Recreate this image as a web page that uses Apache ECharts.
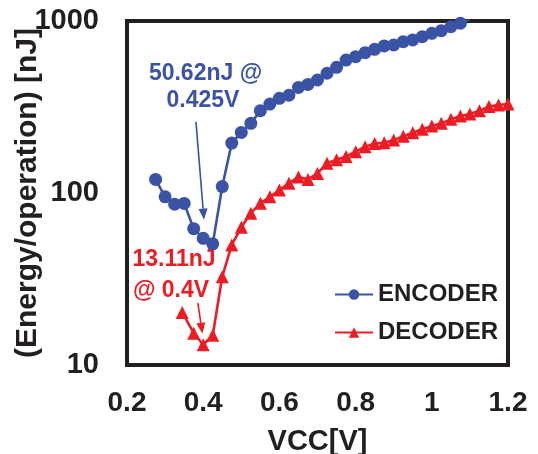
<!DOCTYPE html>
<html>
<head>
<meta charset="utf-8">
<script src="https://cdn.jsdelivr.net/npm/echarts@6/dist/echarts.min.js"></script>
<style>
html,body{margin:0;padding:0;background:#fff;}
#c{width:538px;height:454px;}
</style>
</head>
<body>
<div id="c"></div>
<script>
// ---- data ----
const vccEncoder = [0.275,0.3,0.325,0.35,0.375,0.4,0.425,0.45,0.475,0.5,0.525,0.55,0.575,0.6,0.625,0.65,0.675,0.7,0.725,0.75,0.775,0.8,0.825,0.85,0.875,0.9,0.925,0.95,0.975,1.0,1.025,1.05,1.075,1.1];
const encoder = [120,95,86,87,62,54.5,50.62,109,195,225,254,301,329,355,370,411,428,454,497,538,593,620,654,684,716,725,758,776,811,848,878,926,970,1030];
const vccDecoder = [0.345,0.375,0.4,0.425,0.45,0.475,0.5,0.525,0.55,0.575,0.6,0.625,0.65,0.675,0.7,0.725,0.75,0.775,0.8,0.825,0.85,0.875,0.9,0.925,0.95,0.975,1.0,1.025,1.05,1.075,1.1,1.125,1.15,1.175,1.2];
const decoder = [20.2,15.3,13.11,14.9,32.6,49.9,63.2,76.3,87.1,95.1,104,114,124,120,130,149,156,163,174,186,194,196,203,214,224,235,245,254,268,280,288,301,318,325,329];
const xTicks = [0.2,0.4,0.6,0.8,1,1.2];
const yTicks = [10,100,1000];
const seriesNames = ['ENCODER','DECODER'];
const encAnnot = ['50.62nJ @','0.425V'];
const decAnnot = ['13.11nJ','@ 0.4V'];

const BLUE = '#3a53a4';
const RED = '#ed1c24';
const INK = '#231f20';
const FONT = '"Liberation Sans", Arial, sans-serif';

const zip = (xs, ys) => xs.map((x, i) => [x, ys[i]]);

const chart = echarts.init(document.getElementById('c'));
chart.setOption({
  animation: false,
  backgroundColor: '#fff',
  textStyle: {fontFamily: FONT},
  grid: {left: 127, right: 30, top: 21, bottom: 89, containLabel: false, outerBoundsMode: 'none',
         show: true, borderWidth: 4, borderColor: INK, backgroundColor: 'transparent'},
  xAxis: {
    type: 'value', min: 0.2, max: 1.2, interval: 0.2,
    axisLine: {show: false}, axisTick: {show: false}, splitLine: {show: false},
    axisLabel: {margin: 24, fontSize: 28, fontWeight: 'bold', color: INK, fontFamily: FONT,
      formatter: v => { const t = xTicks.find(k => Math.abs(k - v) < 1e-6); return t === undefined ? '' : String(t); }},
    name: 'VCC[V]', nameLocation: 'middle', nameGap: 62,
    nameTextStyle: {fontSize: 29, fontWeight: 'bold', color: INK, fontFamily: FONT}
  },
  yAxis: {
    type: 'log', logBase: 10, min: 10, max: 1000,
    axisLine: {show: false}, axisTick: {show: false}, splitLine: {show: false}, minorSplitLine: {show: false},
    axisLabel: {margin: 28, fontSize: 29, fontWeight: 'bold', color: INK, fontFamily: FONT,
      formatter: v => { const t = yTicks.find(k => Math.abs(k - v) / k < 1e-6); return t === undefined ? '' : String(t); }}
  },
  legend: {
    orient: 'vertical', left: 329, top: 276, itemWidth: 38, itemHeight: 13, itemGap: 11,
    textStyle: {fontSize: 24, fontWeight: 'bold', color: INK, fontFamily: FONT, lineHeight: 27},
    data: seriesNames
  },
  series: [
    {name: seriesNames[0], type: 'line', data: zip(vccEncoder, encoder), clip: true,
     symbol: 'circle', symbolSize: 13, itemStyle: {color: BLUE}, lineStyle: {color: BLUE, width: 2.6}},
    {name: seriesNames[1], type: 'line', data: zip(vccDecoder, decoder), clip: true,
     symbol: 'triangle', symbolSize: 13, itemStyle: {color: RED}, lineStyle: {color: RED, width: 2.6}}
  ]
});

// annotations positioned in data space
const P = (x, y) => chart.convertToPixel({gridIndex: 0}, [x, y]);
function arrow(from, to, color) {
  const a = P(from[0], from[1]), b = P(to[0], to[1]);
  const ang = Math.atan2(b[1] - a[1], b[0] - a[0]);
  const L = 11, W = 4.5;
  const bx = b[0] - L * Math.cos(ang), by = b[1] - L * Math.sin(ang);
  const nx = -Math.sin(ang) * W, ny = Math.cos(ang) * W;
  return [
    {type: 'line', shape: {x1: a[0], y1: a[1], x2: bx, y2: by}, style: {stroke: color, lineWidth: 1.6}},
    {type: 'polygon', shape: {points: [[b[0], b[1]], [bx + nx, by + ny], [bx - nx, by - ny]]}, style: {fill: color}}
  ];
}
function label(txt, at, color) {
  const p = P(at[0], at[1]);
  return {type: 'text', x: p[0], y: p[1], style: {text: txt, fill: color, font: 'bold 23px ' + FONT, align: 'center', verticalAlign: 'middle'}};
}
const g = [];
g.push(...arrow([0.381, 259], [0.402, 70], BLUE));
g.push(...arrow([0.386, 22.9], [0.398, 15.2], RED));
g.push(label(encAnnot[0], [0.406, 492], BLUE));
g.push(label(encAnnot[1], [0.3995, 343], BLUE));
g.push(label(decAnnot[0], [0.3234, 40.8], RED));
g.push(label(decAnnot[1], [0.3155, 26.9], RED));
// y axis title
g.push({type: 'text', x: 28, y: 193, rotation: Math.PI / 2,
  style: {text: '(Energy/operation) [nJ]', fill: INK, font: 'bold 30px ' + FONT, align: 'center', verticalAlign: 'middle'}});
chart.setOption({graphic: g});
</script>
</body>
</html>
